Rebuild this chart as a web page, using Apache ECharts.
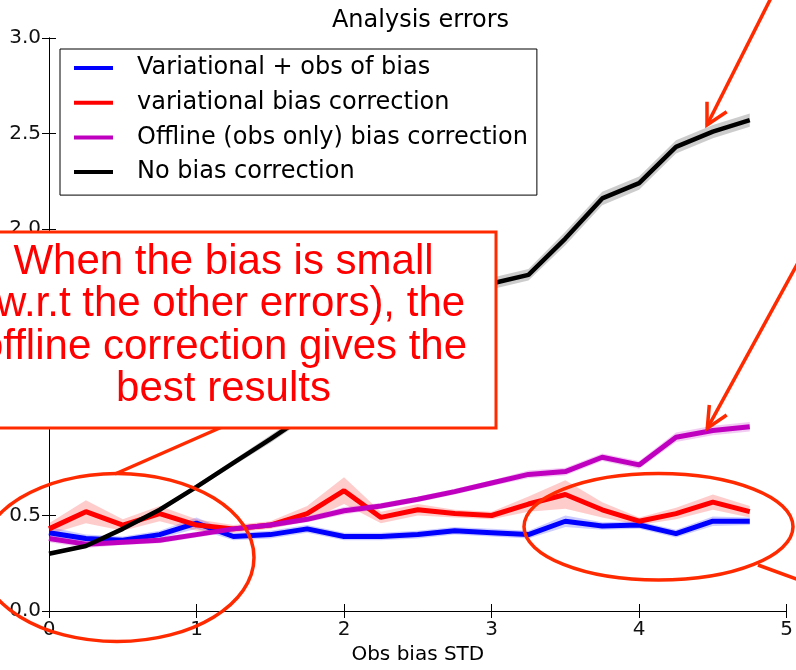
<!DOCTYPE html>
<html><head><meta charset="utf-8">
<script src="https://cdn.jsdelivr.net/npm/echarts@6/dist/echarts.min.js"></script>
<style>html,body{margin:0;padding:0;background:#fff}#c{width:796px;height:670px}</style>
</head><body><div id="c"></div>
<script>
const xValues = [0,0.25,0.5,0.75,1,1.25,1.5,1.75,2,2.25,2.5,2.75,3,3.25,3.5,3.75,4,4.25,4.5,4.75];
const seriesNames = ['Variational + obs of bias','variational bias correction','Offline (obs only) bias correction','No bias correction'];
const blueMean   = [0.41,0.38,0.37,0.40,0.46,0.39,0.40,0.43,0.39,0.39,0.40,0.42,0.41,0.40,0.47,0.445,0.45,0.405,0.47,0.47];
const blueStd    = [0.03,0.02,0.02,0.02,0.03,0.02,0.02,0.02,0.02,0.02,0.02,0.02,0.02,0.02,0.03,0.02,0.02,0.02,0.025,0.02];
const redMean    = [0.43,0.52,0.45,0.51,0.45,0.43,0.45,0.51,0.63,0.49,0.53,0.51,0.50,0.56,0.61,0.53,0.47,0.51,0.57,0.52];
const redStd     = [0.03,0.06,0.03,0.04,0.03,0.02,0.02,0.04,0.07,0.03,0.03,0.02,0.02,0.04,0.075,0.04,0.02,0.03,0.04,0.03];
const purpleMean = [0.38,0.35,0.36,0.37,0.40,0.43,0.45,0.48,0.525,0.55,0.585,0.625,0.67,0.715,0.73,0.805,0.765,0.91,0.945,0.965];
const purpleStd  = [0.02,0.02,0.015,0.015,0.015,0.015,0.015,0.015,0.02,0.015,0.015,0.015,0.015,0.02,0.02,0.02,0.02,0.025,0.025,0.025];
const blackMean  = [0.30,0.34,0.43,0.53,0.65,0.775,0.90,1.03,1.17,1.31,1.44,1.58,1.715,1.76,1.95,2.16,2.24,2.43,2.51,2.57];
const blackStd   = [0.01,0.01,0.01,0.01,0.012,0.015,0.02,0.02,0.025,0.025,0.025,0.03,0.03,0.03,0.035,0.035,0.035,0.035,0.035,0.035];
const xTicks = [0,1,2,3,4,5];
const yTicks = [0,0.5,1,1.5,2,2.5,3];

const lineColors = ['#0000ff','#ff0000','#bf00bf','#000000'];
const lineWidths = [5,5,5,4.5];
const bandColors = ['rgba(0,0,255,0.2)','rgba(255,0,0,0.2)','rgba(191,0,191,0.2)','rgba(0,0,0,0.2)'];
const means = [blueMean, redMean, purpleMean, blackMean];
const stds = [blueStd, redStd, purpleStd, blackStd];

const series = [];
means.forEach((m, i) => {
  const s = stds[i];
  const bandData = xValues.map((x,k)=>[x, m[k]-s[k], m[k]+s[k]]);
  series.push({
    type:'custom', silent:true, z:2,
    data: bandData,
    encode:{x:0, y:[1,2]},
    renderItem:(params, api) => {
      if (params.dataIndex !== 0) return null;
      const upper = bandData.map(d => api.coord([d[0], d[2]]));
      const lower = bandData.map(d => api.coord([d[0], d[1]])).reverse();
      return {type:'polygon', shape:{points: upper.concat(lower)}, style:{fill:bandColors[i], stroke:'none'}};
    }
  });
  series.push({
    type:'line', name: seriesNames[i], symbol:'none',
    data: xValues.map((x,k)=>[x, m[k]]),
    lineStyle:{color:lineColors[i], width:lineWidths[i]}, itemStyle:{color:lineColors[i]}, z:3
  });
});

const F = 'DejaVu Sans';
const annot = '#ff2a00';
const chart = echarts.init(document.getElementById('c'));
chart.setOption({
  animation:false,
  backgroundColor:'#fff',
  title:{text:'Analysis errors', left:420.5, top:9, padding:0, textAlign:'center',
    textStyle:{fontFamily:F, fontSize:24, fontWeight:'normal', color:'#000', lineHeight:24}},
  grid:{left:49, right:4, top:38, bottom:57, containLabel:false},
  legend:{
    data: seriesNames, orient:'vertical', left:60, top:49,
    padding:[7,9,11,14], itemGap:10.7, itemWidth:39, itemHeight:4, icon:'rect',
    borderColor:'#000', borderWidth:1, borderRadius:0, backgroundColor:'#fff',
    textStyle:{fontFamily:F, fontSize:24, color:'#000', lineHeight:24, padding:[0,0,0,19]}
  },
  xAxis:[
    {type:'value', min:0, max:5, interval:1, name:'Obs bias STD', nameLocation:'middle', nameGap:34,
     nameTextStyle:{fontFamily:F, fontSize:20, color:'#000'},
     axisLine:{show:true, lineStyle:{color:'#000', width:1}},
     axisTick:{show:true, inside:true, length:7, lineStyle:{color:'#000'}},
     axisLabel:{fontFamily:F, fontSize:20, color:'#111', margin:9, showMaxLabel:true, showMinLabel:true},
     splitLine:{show:false}},
    {type:'value', min:0, max:5, interval:1, position:'top',
     axisLine:{show:true, lineStyle:{color:'#000', width:1}},
     axisTick:{show:true, inside:true, length:7, lineStyle:{color:'#000'}},
     axisLabel:{show:false}, splitLine:{show:false}}
  ],
  yAxis:[
    {type:'value', min:0, max:3, interval:0.5,
     axisLine:{show:true, lineStyle:{color:'#000', width:1}},
     axisTick:{show:true, inside:true, length:7, lineStyle:{color:'#000'}},
     axisLabel:{fontFamily:F, fontSize:20, color:'#111', margin:8, formatter:v=>v.toFixed(1)},
     splitLine:{show:false}},
    {type:'value', min:0, max:3, interval:0.5, position:'right',
     axisLine:{show:true, lineStyle:{color:'#000', width:1}},
     axisTick:{show:true, inside:true, length:7, lineStyle:{color:'#000'}},
     axisLabel:{show:false}, splitLine:{show:false}}
  ],
  series: series,
  graphic:[
    {type:'line', z:100, shape:{x1:115,y1:474,x2:222,y2:427}, style:{stroke:annot, lineWidth:3.5}},
    {type:'line', z:100, shape:{x1:758,y1:565,x2:802,y2:581}, style:{stroke:annot, lineWidth:3.5}},
    {type:'ellipse', z:100, shape:{cx:117,cy:557.5,rx:137,ry:84}, style:{stroke:annot, fill:'none', lineWidth:3.5}},
    {type:'ellipse', z:100, shape:{cx:658.5,cy:526.7,rx:134.5,ry:53.3}, style:{stroke:annot, fill:'none', lineWidth:3.5}},
    {type:'rect', z:101, shape:{x:-20,y:232,width:516,height:196}, style:{stroke:annot, fill:'#fff', lineWidth:3}},
    {type:'text', z:102, x:223.5, y:326, style:{
      text:'When the bias is small\n(w.r.t the other errors), the\noffline correction gives the\nbest results',
      fontFamily:'Liberation Sans', fontSize:42, lineHeight:42.5, fill:'#ff0000', align:'center', verticalAlign:'middle'}},
    {type:'polyline', z:100, shape:{points:[[775,-10],[707,125]]}, style:{stroke:annot, lineWidth:3.5, fill:'none'}},
    {type:'polyline', z:100, shape:{points:[[707,101.7],[707,125],[726.7,111.7]]}, style:{stroke:annot, lineWidth:3.5, fill:'none'}},
    {type:'polyline', z:100, shape:{points:[[800,259],[707.3,428.3]]}, style:{stroke:annot, lineWidth:3.5, fill:'none'}},
    {type:'polyline', z:100, shape:{points:[[709.3,405],[707.3,428.3],[726.7,415]]}, style:{stroke:annot, lineWidth:3.5, fill:'none'}}
  ]
});
</script></body></html>
